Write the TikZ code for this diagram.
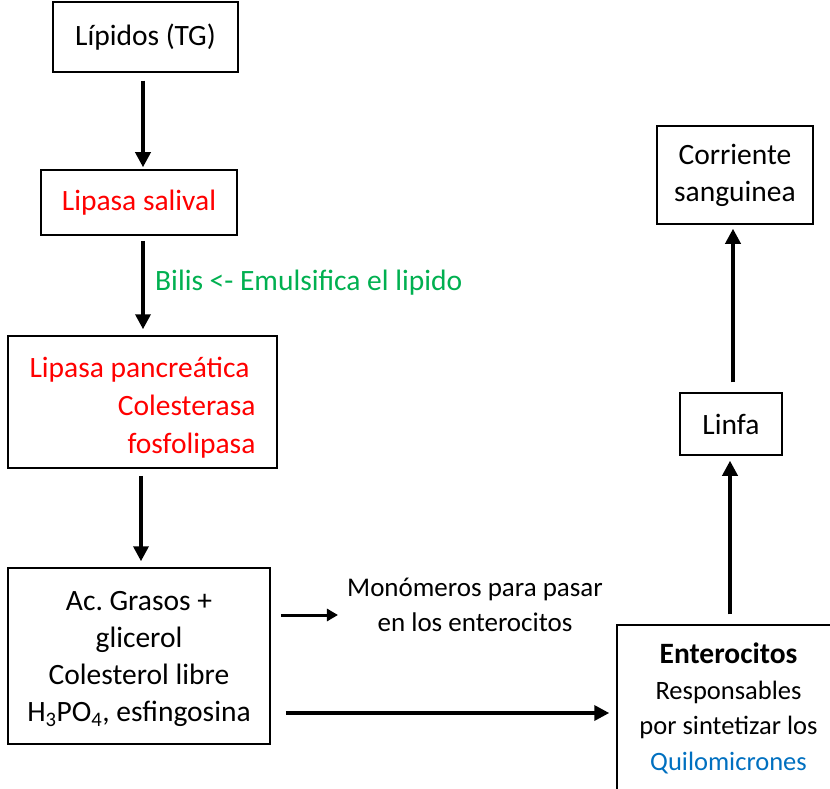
\documentclass[tikz,border=0pt]{standalone}
\usepackage{fontspec}
\setmainfont{Carlito}
\usetikzlibrary{arrows.meta,calc}
\definecolor{myred}{HTML}{FF0000}
\definecolor{mygreen}{HTML}{00B050}
\definecolor{myblue}{HTML}{0070C0}
\frenchspacing
\begin{document}
\begin{tikzpicture}[x=1pt,y=-1pt,
  box/.style={draw, line width=1.5pt, inner sep=0pt, align=center, font=\fontsize{29.5}{37}\selectfont},
  txt/.style={inner sep=0pt, align=center, font=\fontsize{29.5}{37}\selectfont},
  arr/.style={line width=3.5pt, -{Triangle[length=15pt,width=15pt]}},
  sarr/.style={line width=3pt, -{Triangle[length=11pt,width=12pt]}},
]
\clip (0,0) rectangle (830,789);
\fill[white] (0,0) rectangle (830,789);

\node[box, minimum width=185pt, minimum height=70pt] (b1) at (145.5,37) {Lípidos (TG)};
\node[box, minimum width=196pt, minimum height=65pt, text=myred] (b2) at (139,202.5) {Lipasa salival};
\node[box, align=right, minimum width=269pt, minimum height=132pt, text=myred, font=\fontsize{29.5}{38}\selectfont] (b3) at (142.5,402) {\rule{0pt}{32pt}Lipasa pancreática\kern6pt\\Colesterasa\\fosfolipasa};
\node[box, minimum width=262pt, minimum height=176pt] (b4) at (139,656) {\rule{0pt}{26pt}Ac. Grasos +\\glicerol\\Colesterol libre\\H\textsubscript{3}PO\textsubscript{4}, esfingosina};
\node[box, minimum width=223pt, minimum height=167pt, font=\fontsize{26.5}{35.5}\selectfont] (b5) at (728.5,708.5) {{\fontsize{29.5}{37}\selectfont\textbf{Enterocitos}}\\Responsables\\por sintetizar los\\\textcolor{myblue}{Quilomicrones}};
\node[box, minimum width=102pt, minimum height=62pt] (lin) at (731,424) {Linfa};
\node[box, minimum width=156pt, minimum height=98pt] (cor) at (735,175) {Corriente\\sanguinea};

\node[txt, anchor=west, text=mygreen] (bilis) at (155,283) {Bilis <- Emulsifica el lipido};
\node[txt, font=\fontsize{27}{35}\selectfont] (mono) at (475,604.5) {Monómeros para pasar\\en los enterocitos};

\draw[arr] ($(b1.south)+(-2.5,8)$) -- ($(b2.north)+(4,-2)$);
\draw[arr] ($(b2.south)+(4,5)$) -- ($(b3.north)+(0.5,-6)$);
\draw[arr] ($(b3.south)+(-1.5,7)$) -- ($(b4.north)+(2,-6)$);
\draw[sarr, shorten >=9pt] ($(b4.east)+(10,-41)$) coordinate (s1) -- (s1 -| mono.west);
\draw[arr, shorten >=7pt] ($(b4.east)+(15,57)$) coordinate (s2) -- (s2 -| b5.west);
\draw[arr] ($(b5.north)+(1.5,-10)$) -- ($(lin.south)+(-1,5)$);
\draw[arr] ($(lin.north)+(2,-10)$) -- ($(cor.south)+(-2,4)$);
\end{tikzpicture}
\end{document}
